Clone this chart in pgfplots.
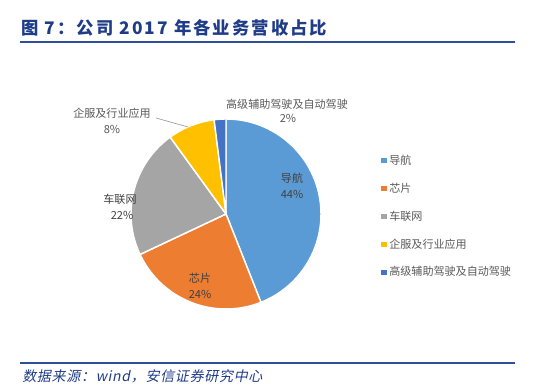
\documentclass[border=0pt]{standalone}
\usepackage{pgfplots}
\pgfplotsset{compat=1.18}
\usepackage{fontspec}
\setmainfont{Liberation Serif}
\newfontfamily\cjk{Noto Sans CJK SC}
\newfontfamily\cjkt[LetterSpace=12]{Noto Sans CJK SC}
\newfontfamily\cjki[FakeSlant=0.2, LetterSpace=5]{Noto Sans CJK SC}
\definecolor{cA}{HTML}{5B9BD5}
\definecolor{cB}{HTML}{ED7D31}
\definecolor{cC}{HTML}{A5A5A5}
\definecolor{cD}{HTML}{FFC000}
\definecolor{cE}{HTML}{4472C4}
\definecolor{titleblue}{HTML}{1F3C88}
\definecolor{rule}{HTML}{2F4F9A}
\definecolor{lbl}{HTML}{404040}
\definecolor{lbl2}{HTML}{595959}
% data (percent)
\def\vA{44}\def\vB{24}\def\vC{22}\def\vD{8}\def\vE{2}
\pgfmathsetmacro\bA{90}
\pgfmathsetmacro\bB{\bA-3.6*\vA}
\pgfmathsetmacro\bC{\bB-3.6*\vB}
\pgfmathsetmacro\bD{\bC-3.6*\vC}
\pgfmathsetmacro\bE{\bD-3.6*\vD}
\pgfmathsetmacro\bF{\bE-3.6*\vE}
\begin{document}
\begin{tikzpicture}
\useasboundingbox (0,0) rectangle (420pt,293.25pt);
\begin{axis}[
  at={(169.5pt,132.75pt)}, anchor=center,
  scale only axis, width=142.5pt, height=142.5pt,
  xmin=-1, xmax=1, ymin=-1, ymax=1,
  hide axis, clip=false,
  legend style={at={(1.316,0.826)}, anchor=north west, draw=none, fill=none,
    font=\cjk\fontsize{8.3}{9}\selectfont, text=lbl2, row sep=8.4pt,
    inner sep=0pt, cells={anchor=west}},
  legend cell align=left,
  legend image code/.code={\fill[#1, draw=none] (0pt,-2pt) rectangle (4pt,2pt);},
]
\addplot[fill=cA, draw=white, line width=1.1pt, domain=\bB:\bA, samples=80] ({cos(x)},{sin(x)}) -- (0,0) -- cycle;
\addlegendentry{导航}
\addplot[fill=cB, draw=white, line width=1.1pt, domain=\bC:\bB, samples=50] ({cos(x)},{sin(x)}) -- (0,0) -- cycle;
\addlegendentry{芯片}
\addplot[fill=cC, draw=white, line width=1.1pt, domain=\bD:\bC, samples=50] ({cos(x)},{sin(x)}) -- (0,0) -- cycle;
\addlegendentry{车联网}
\addplot[fill=cD, draw=white, line width=1.1pt, domain=\bE:\bD, samples=20] ({cos(x)},{sin(x)}) -- (0,0) -- cycle;
\addlegendentry{企服及行业应用}
\addplot[fill=cE, draw=white, line width=1.1pt, domain=\bF:\bE, samples=8] ({cos(x)},{sin(x)}) -- (0,0) -- cycle;
\addlegendentry{高级辅助驾驶及自动驾驶}
\end{axis}
\begin{scope}[x=0.75pt, y=-0.75pt, yshift=293.25pt]
  % title
  \node[anchor=west, text=titleblue, font=\cjkt\bfseries\fontsize{13}{15}\selectfont, inner sep=0pt] at (21,28) {图 7：公司 2017 年各业务营收占比};
  \draw[rule, line width=1.5pt] (20,42) -- (515,42);
  % footer
  \draw[rule, line width=1.5pt] (20,363) -- (515,363);
  \node[anchor=west, text=titleblue, font=\cjki\fontsize{10.5}{12}\selectfont, inner sep=0pt] at (22,376) {数据来源：\textit{wind}，安信证券研究中心};
  % pie labels
  \begin{scope}[font=\cjk\fontsize{8.3}{9}\selectfont, text=lbl, inner sep=0pt]
    \node at (292,178) {导航};
    \node at (292,194) {44\%};
    \node at (200,278) {芯片};
    \node at (200,294) {24\%};
    \node at (120,199) {车联网};
    \node at (122,215) {22\%};
    \node[text=lbl2] at (112,113) {企服及行业应用};
    \node[text=lbl2] at (112,129) {8\%};
    \node[text=lbl2] at (287,104) {高级辅助驾驶及自动驾驶};
    \node[text=lbl2] at (288,118) {2\%};
  \end{scope}
  \draw[lbl2!60, line width=0.5pt] (156,118) -- (188,127);
\end{scope}
\end{tikzpicture}
\end{document}
